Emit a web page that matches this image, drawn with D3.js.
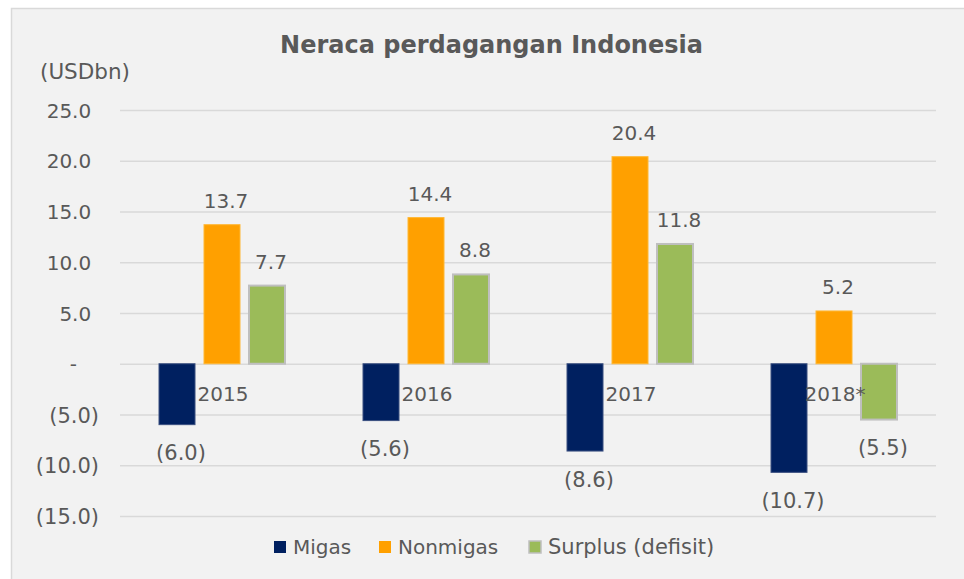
<!DOCTYPE html>
<html>
<head>
<meta charset="utf-8">
<script src="https://cdn.jsdelivr.net/npm/d3@7"></script>
<style>
  body { margin: 0; background: #fff; }
  svg { display: block; font-family: "DejaVu Sans", Verdana, sans-serif; }
</style>
</head>
<body>
<div id="chart"></div>
<script>
// data
const years = ['2015', '2016', '2017', '2018*'];
const seriesNames = ['Migas', 'Nonmigas', 'Surplus (defisit)'];
const migas = [-6.0, -5.6, -8.6, -10.7];
const nonmigas = [13.7, 14.4, 20.4, 5.2];
const surplus = [7.7, 8.8, 11.8, -5.5];
const yTicks = [25, 20, 15, 10, 5, 0, -5, -10, -15];

const colors = ['#002060', '#FFA000', '#9BBB59'];
const strokes = ['#3a4f80', '#FFB733', '#BFBFBF'];
const textColor = '#595959';

const width = 964, height = 579;
const plot = { left: 120, right: 936, top: 110, bottom: 516 };

// verdana parens are wider than dejavu ones, bump size a bit for those texts
const sizeFor = s => /[()]/.test(s) ? '21px' : '20px';

const svg = d3.select('#chart').append('svg')
    .attr('width', width)
    .attr('height', height);

// chart area background, only top/left edge visible
svg.append('rect')
    .attr('x', 11.5).attr('y', 8.5)
    .attr('width', 970).attr('height', 590)
    .attr('fill', '#F2F2F2')
    .attr('stroke', '#D9D9D9')
    .attr('stroke-width', 1.5);

const x0 = d3.scaleBand()
    .domain(years)
    .range([plot.left, plot.right]);

const x1 = d3.scaleBand()
    .domain(seriesNames)
    .range([0, x0.bandwidth()])
    .paddingInner(0.2)
    .paddingOuter(0.867);

const y = d3.scaleLinear()
    .domain([-15, 25])
    .range([plot.bottom, plot.top]);

const fmt = v => v === 0 ? '-' : (v < 0 ? `(${d3.format('.1f')(-v)})` : d3.format('.1f')(v));

// y axis with gridlines
const yAxis = svg.append('g')
    .attr('transform', `translate(${plot.left},0)`)
    .call(d3.axisLeft(y)
        .tickValues(yTicks)
        .tickSize(-(plot.right - plot.left))
        .tickPadding(21)
        .tickFormat(fmt));

yAxis.select('.domain').remove();
yAxis.selectAll('.tick line')
    .attr('stroke', '#D9D9D9')
    .attr('stroke-width', 1.5);
yAxis.selectAll('.tick text')
    .attr('fill', textColor)
    .style('font-size', d => sizeFor(fmt(d)))
    .style('font-family', '"DejaVu Sans", Verdana, sans-serif')
    .attr('dy', '0.36em')
    .attr('dx', d => d > 0 ? -7.8 : (d === 0 ? -22 : 0));

const rows = years.map((yr, i) => ({
    year: yr,
    values: [migas[i], nonmigas[i], surplus[i]].map((v, k) => ({ name: seriesNames[k], k: k, value: v }))
}));

const groups = svg.selectAll('.year')
    .data(rows)
    .enter()
    .append('g')
    .attr('class', 'year')
    .attr('transform', d => `translate(${x0(d.year)},0)`);

groups.selectAll('rect')
    .data(d => d.values)
    .enter()
    .append('rect')
    .attr('x', d => x1(d.name))
    .attr('y', d => y(Math.max(0, d.value)))
    .attr('width', x1.bandwidth())
    .attr('height', d => Math.abs(y(d.value) - y(0)))
    .attr('fill', d => colors[d.k])
    .attr('stroke', d => strokes[d.k])
    .attr('stroke-width', d => d.k === 2 ? 2 : 1);

// value labels
groups.selectAll('.val')
    .data(d => d.values)
    .enter()
    .append('text')
    .attr('class', 'val')
    .attr('x', d => x1(d.name) + x1.bandwidth() / 2 + 4)
    .attr('y', d => d.value >= 0 ? y(d.value) - 17 : y(d.value) + 35.5)
    .attr('text-anchor', 'middle')
    .attr('fill', textColor)
    .style('font-size', d => sizeFor(fmt(d.value)))
    .text(d => fmt(d.value));

// category labels next to the zero line
groups.append('text')
    .attr('x', x0.bandwidth() / 2 + 1)
    .attr('y', y(0) + 37)
    .attr('text-anchor', 'middle')
    .attr('fill', textColor)
    .style('font-size', '20px')
    .text(d => d.year);

// title and unit
svg.append('text')
    .attr('x', 491.5)
    .attr('y', 53)
    .attr('text-anchor', 'middle')
    .attr('fill', textColor)
    .style('font-size', '24px')
    .style('font-weight', 'bold')
    .text('Neraca perdagangan Indonesia');

svg.append('text')
    .attr('x', 40)
    .attr('y', 79)
    .attr('fill', textColor)
    .style('font-size', '21.5px')
    .text('(USDbn)');

// legend
const legendX = [274, 379, 529];
const legend = svg.selectAll('.legend')
    .data(seriesNames)
    .enter()
    .append('g')
    .attr('class', 'legend')
    .attr('transform', (d, i) => `translate(${legendX[i]},541)`);

legend.append('rect')
    .attr('width', 12)
    .attr('height', 12)
    .attr('fill', (d, i) => colors[i])
    .attr('stroke', (d, i) => i === 2 ? '#BFBFBF' : 'none')
    .attr('stroke-width', 1.5);

legend.append('text')
    .attr('x', 19)
    .attr('y', 13)
    .attr('fill', textColor)
    .style('font-size', d => sizeFor(d))
    .text(d => d);
</script>
</body>
</html>
